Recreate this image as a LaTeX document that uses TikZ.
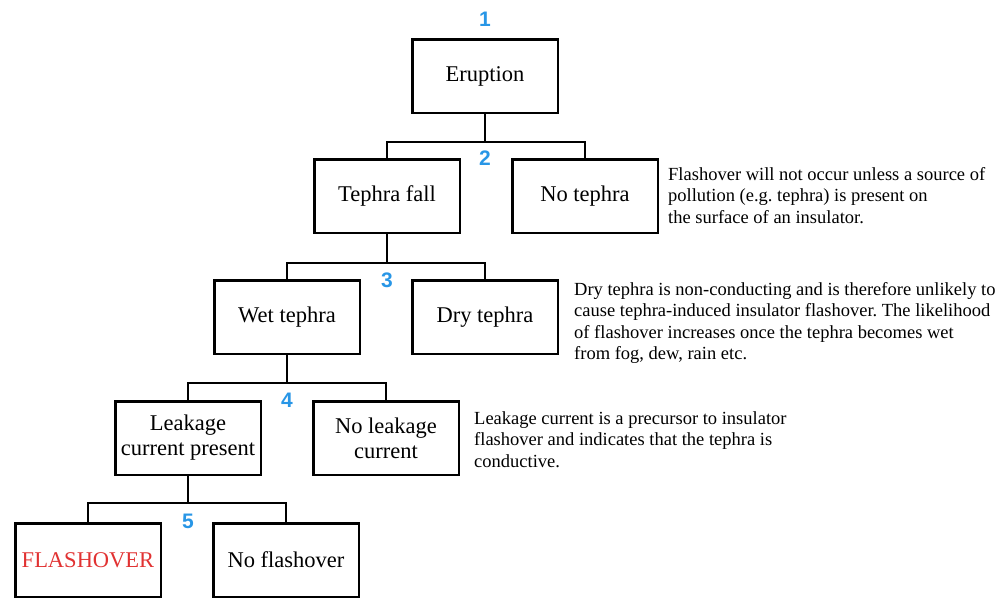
\documentclass[tikz,border=0pt]{standalone}
\usepackage{fontspec}
\setmainfont{Liberation Serif}
\newfontfamily\numfont{Liberation Sans}
\definecolor{numblue}{RGB}{40,150,230}
\definecolor{flashred}{RGB}{225,50,50}
\frenchspacing
\begin{document}
\begin{tikzpicture}[x=1pt,y=-1pt,
  box/.style={draw, line width=2.5pt, minimum width=145.5pt, minimum height=73.5pt, inner sep=2pt, font=\fontsize{22.5}{25}\selectfont, align=center},
  num/.style={font=\numfont\bfseries\fontsize{21}{21}\selectfont, text=numblue, inner sep=0pt},
  note/.style={font=\fontsize{18.5}{21.5}\selectfont, align=left, anchor=north west, inner sep=0pt},
  conn/.style={line width=2.5pt}]
\useasboundingbox (0,0) rectangle (1004,600);
\node[box] (erupt) at (485,76) {Eruption};
\node[box] (tf) at (387,196) {Tephra fall};
\node[box] (nt) at (585,196) {No tephra};
\node[box] (wt) at (287,317) {Wet tephra};
\node[box] (dt) at (485,317) {Dry tephra};
\node[box] (lc) at (188,438) {Leakage\\current present};
\node[box] (nlc) at (386,438) {No leakage\\current};
\node[box,text=flashred] (fo) at (88,560) {FLASHOVER};
\node[box] (nfo) at (286,560) {No flashover};
\coordinate (j1) at (485,142);
\coordinate (j2) at (387,263);
\coordinate (j3) at (287,383);
\coordinate (j4) at (188,503);
\draw[conn] (erupt.south) -- (j1);
\draw[conn] (tf.north) |- (j1) -| (nt.north);
\draw[conn] (tf.south) -- (j2);
\draw[conn] (wt.north) |- (j2) -| (dt.north);
\draw[conn] (wt.south) -- (j3);
\draw[conn] (lc.north) |- (j3) -| (nlc.north);
\draw[conn] (lc.south) -- (j4);
\draw[conn] (fo.north) |- (j4) -| (nfo.north);
\node[num] (k1) at (485,19) {1};
\node[num] (k2) at (485,158) {2};
\node[num] (k3) at (387,280) {3};
\node[num] (k4) at (287,400) {4};
\node[num] (k5) at (188,521) {5};
\node[note] (n1) at (668,167) {Flashover will not occur unless a source of\\pollution (e.g. tephra) is present on\\the surface of an insulator.};
\node[note] (n2) at (574,282) {Dry tephra is non-conducting and is therefore unlikely to\\cause tephra-induced insulator flashover. The likelihood\\of flashover increases once the tephra becomes wet\\from fog, dew, rain etc.};
\node[note] (n3) at (474,411) {Leakage current is a precursor to insulator\\flashover and indicates that the tephra is\\conductive.};
\end{tikzpicture}
\end{document}
